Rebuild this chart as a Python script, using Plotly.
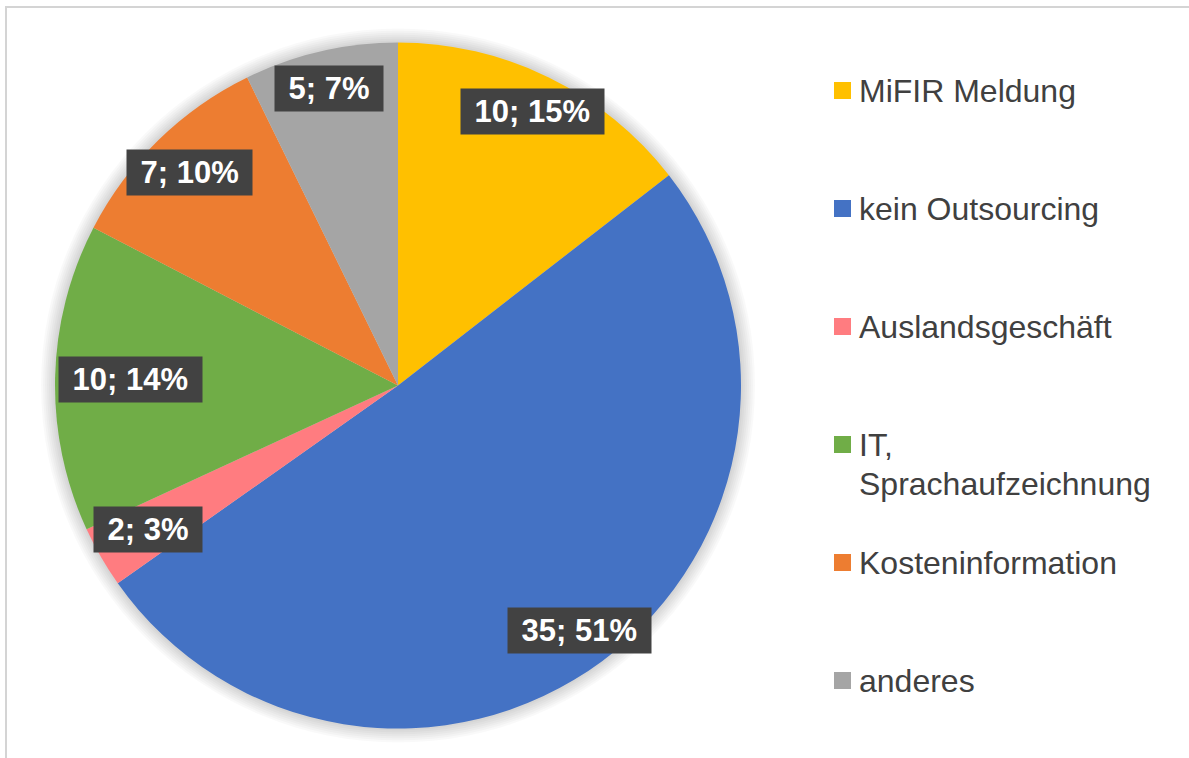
import math
import plotly.graph_objects as go

# ---- data ----
categories = ["MiFIR Meldung", "kein Outsourcing", "Auslandsgeschäft",
              "IT, Sprachaufzeichnung", "Kosteninformation", "anderes"]
values = [10, 35, 2, 10, 7, 5]
percent_labels = ["15%", "51%", "3%", "14%", "10%", "7%"]

# ---- style ----
colors = ["#FFC000", "#4472C4", "#FF7C80", "#70AD47", "#ED7D31", "#A5A5A5"]
label_radius = [0.89, 0.89, 0.84, 0.78, 0.87, 0.89]
legend_lines = [["MiFIR Meldung"], ["kein Outsourcing"], ["Auslandsgeschäft"],
                ["IT,", "Sprachaufzeichnung"], ["Kosteninformation"], ["anderes"]]

W, H = 1189, 758
CX, CY, R = 398, 385.5, 343
FONT = "Arial, Liberation Sans, sans-serif"
NB = "\u00a0"


def px(x):
    return x / W


def py(y):
    return 1 - y / H


fig = go.Figure(go.Pie(
    labels=categories, values=values, sort=False, direction="clockwise",
    rotation=0, marker=dict(colors=colors, line=dict(width=0)),
    textinfo="none", showlegend=False,
    domain=dict(x=[px(CX - R), px(CX + R)], y=[py(CY + R), py(CY - R)]),
))

shapes = []
# soft shadow around pie
for k in range(1, 8):
    rr = R + k * 2
    shapes.append(dict(type="circle", xref="paper", yref="paper", layer="below",
                       x0=px(CX - rr), x1=px(CX + rr), y0=py(CY + rr), y1=py(CY - rr),
                       fillcolor="rgba(0,0,0,0.022)", line=dict(width=0)))
# chart border
shapes.append(dict(type="rect", xref="paper", yref="paper", x0=px(6), y0=py(7),
                   x1=1.05, y1=-0.05, line=dict(color="#D4D4D4", width=2),
                   fillcolor="rgba(0,0,0,0)", layer="below"))

annotations = []
total = sum(values)
cum = 0
for v, p, f in zip(values, percent_labels, label_radius):
    mid = (cum + v / 2) / total * 2 * math.pi
    cum += v
    lx = CX + f * R * math.sin(mid)
    ly = CY - f * R * math.cos(mid)
    annotations.append(dict(x=px(lx), y=py(ly), xref="paper", yref="paper",
                            xanchor="center", yanchor="middle",
                            text=f"<b>{NB}{v}; {p}{NB}</b>", showarrow=False,
                            font=dict(family=FONT, size=31, color="white"),
                            bgcolor="#424242", borderpad=5))

# legend
for i, (lines, c) in enumerate(zip(legend_lines, colors)):
    yc = 90.5 + i * 118
    shapes.append(dict(type="rect", xref="paper", yref="paper",
                       x0=px(834), x1=px(851), y0=py(yc + 8.5), y1=py(yc - 8.5),
                       fillcolor=c, line=dict(width=0)))
    for j, ln in enumerate(lines):
        annotations.append(dict(x=px(857), y=py(yc + 0.5 + j * 38.5), xref="paper", yref="paper",
                                xanchor="left", yanchor="middle", text=ln, showarrow=False,
                                font=dict(family=FONT, size=32, color="#404040")))

fig.update_layout(width=W, height=H, margin=dict(l=0, r=0, t=0, b=0),
                  paper_bgcolor="white", plot_bgcolor="white",
                  shapes=shapes, annotations=annotations)

fig.write_html("out.html", config={"displayModeBar": False},
               post_script="document.body.style.margin='0';")
